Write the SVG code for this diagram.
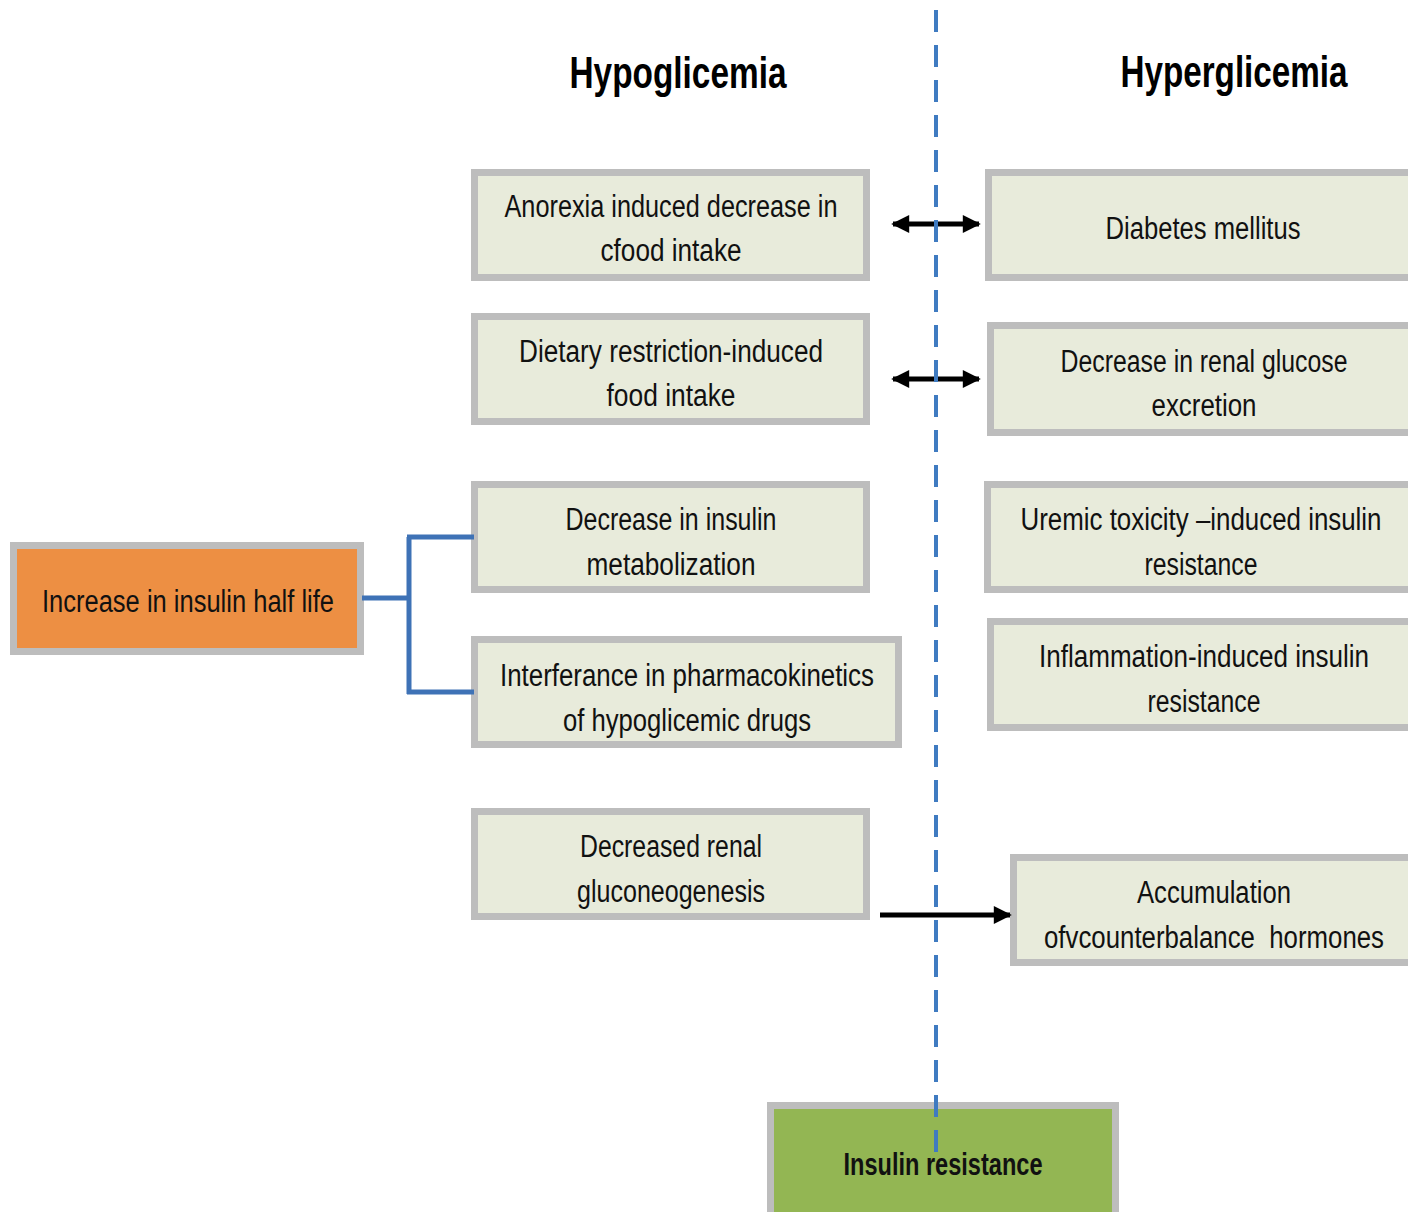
<svg xmlns="http://www.w3.org/2000/svg" width="1408" height="1212" viewBox="0 0 1408 1212">
<style>
.box{fill:#e8ebdb;stroke:#bdbdbd;stroke-width:7}
.t{font-family:"Liberation Sans",Arial,sans-serif;font-size:31px;fill:#111;text-anchor:middle}
.h{font-family:"Liberation Sans",Arial,sans-serif;font-size:45px;font-weight:bold;fill:#000;text-anchor:middle}
.br{fill:none;stroke:#3e72b6;stroke-width:5}
.ar{stroke:#000;stroke-width:5;fill:none}
</style>
<defs>
<marker id="ah" viewBox="0 0 10 10" refX="9" refY="5" markerWidth="3.8" markerHeight="3.6" orient="auto-start-reverse" markerUnits="strokeWidth"><path d="M0,0 L10,5 L0,10 Z" fill="#000"/></marker>
</defs>
<rect width="1408" height="1212" fill="#fff"/>
<text class="h" x="678" y="88" textLength="217" lengthAdjust="spacingAndGlyphs">Hypoglicemia</text>
<text class="h" x="1234" y="87" textLength="227" lengthAdjust="spacingAndGlyphs">Hyperglicemia</text>

<g id="n-anorexia"><rect class="box" x="474.5" y="172.5" width="392" height="105"/>
<text class="t" x="671" y="217" textLength="333" lengthAdjust="spacingAndGlyphs">Anorexia induced decrease in</text>
<text class="t" x="671" y="261" textLength="141" lengthAdjust="spacingAndGlyphs">cfood intake</text></g>

<g id="n-dietary"><rect class="box" x="474.5" y="316.5" width="392" height="105"/>
<text class="t" x="671" y="362" textLength="304" lengthAdjust="spacingAndGlyphs">Dietary restriction-induced</text>
<text class="t" x="671" y="406" textLength="129" lengthAdjust="spacingAndGlyphs">food intake</text></g>

<g id="n-metab"><rect class="box" x="474.5" y="484.5" width="392" height="105"/>
<text class="t" x="671" y="530" textLength="211" lengthAdjust="spacingAndGlyphs">Decrease in insulin</text>
<text class="t" x="671" y="575" textLength="169" lengthAdjust="spacingAndGlyphs">metabolization</text></g>

<g id="n-interf"><rect class="box" x="474.5" y="639.5" width="424" height="105"/>
<text class="t" x="687" y="686" textLength="374" lengthAdjust="spacingAndGlyphs">Interferance in pharmacokinetics</text>
<text class="t" x="687" y="731" textLength="248" lengthAdjust="spacingAndGlyphs">of hypoglicemic drugs</text></g>

<g id="n-gluco"><rect class="box" x="474.5" y="811.5" width="392" height="105"/>
<text class="t" x="671" y="857" textLength="182" lengthAdjust="spacingAndGlyphs">Decreased renal</text>
<text class="t" x="671" y="902" textLength="188" lengthAdjust="spacingAndGlyphs">gluconeogenesis</text></g>

<g id="n-halflife"><rect x="13.5" y="545.5" width="347" height="106" fill="#ed8f43" stroke="#bdbdbd" stroke-width="7"/>
<text class="t" x="188" y="612" textLength="292" lengthAdjust="spacingAndGlyphs">Increase in insulin half life</text></g>

<g id="n-diabetes"><rect class="box" x="988.5" y="172.5" width="430" height="105"/>
<text class="t" x="1203" y="239" textLength="195" lengthAdjust="spacingAndGlyphs">Diabetes mellitus</text></g>

<g id="n-renalgluc"><rect class="box" x="990.5" y="325.5" width="430" height="107"/>
<text class="t" x="1204" y="372" textLength="287" lengthAdjust="spacingAndGlyphs">Decrease in renal glucose</text>
<text class="t" x="1204" y="416" textLength="105" lengthAdjust="spacingAndGlyphs">excretion</text></g>

<g id="n-uremic"><rect class="box" x="987.5" y="484.5" width="430" height="105"/>
<text class="t" x="1201" y="530" textLength="361" lengthAdjust="spacingAndGlyphs">Uremic toxicity –induced insulin</text>
<text class="t" x="1201" y="575" textLength="113" lengthAdjust="spacingAndGlyphs">resistance</text></g>

<g id="n-inflam"><rect class="box" x="990.5" y="621.5" width="430" height="106"/>
<text class="t" x="1204" y="667" textLength="330" lengthAdjust="spacingAndGlyphs">Inflammation-induced insulin</text>
<text class="t" x="1204" y="712" textLength="113" lengthAdjust="spacingAndGlyphs">resistance</text></g>

<g id="n-accum"><rect class="box" x="1013.5" y="857.5" width="420" height="105"/>
<text class="t" x="1214" y="903" textLength="154" lengthAdjust="spacingAndGlyphs">Accumulation</text>
<text class="t" x="1214" y="948" textLength="340" lengthAdjust="spacingAndGlyphs" xml:space="preserve">ofvcounterbalance  hormones</text></g>

<g id="n-insres"><rect x="770.5" y="1105.5" width="345" height="112" fill="#93b653" stroke="#bdbdbd" stroke-width="7"/>
<text class="t" x="943" y="1175" font-weight="bold" textLength="199" lengthAdjust="spacingAndGlyphs">Insulin resistance</text></g>

<g id="connectors">
<path class="br" d="M362,598 H409 M409,537 V694 M407,537 H474 M407,692 H474"/>
<line class="ar" x1="893" y1="224" x2="979" y2="224" marker-start="url(#ah)" marker-end="url(#ah)"/>
<line class="ar" x1="893" y1="379" x2="979" y2="379" marker-start="url(#ah)" marker-end="url(#ah)"/>
<line class="ar" x1="880" y1="915" x2="1010" y2="915" marker-end="url(#ah)"/>
<line x1="936" y1="10" x2="936" y2="1162" stroke="#3f7bc1" stroke-width="4" stroke-dasharray="22,13"/>
</g>
</svg>
